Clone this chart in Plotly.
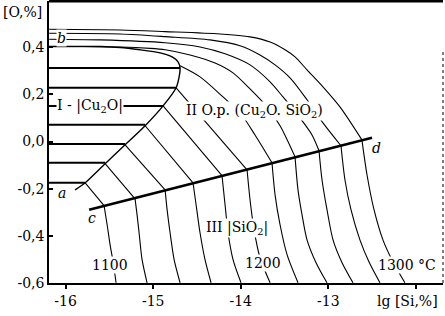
import plotly.graph_objects as go

# ---------------- axes ----------------
X_RANGE = [-16.19, -11.69]
Y_RANGE = [-0.6, 0.596]
X_TICKS = [-16, -15, -14, -13, -12]
X_TICK_LABELS = ["-16", "-15", "-14", "-13", ""]
Y_TICKS = [-0.6, -0.4, -0.2, 0.0, 0.2, 0.4]
Y_TICK_LABELS = ["-0,6", "-0,4", "-0,2", "0,0", "0,2", "0,4"]

# ---------------- boundary a-b (region I / II) ----------------
AB_X = [-15.892, -15.777, -15.549, -15.321, -15.092, -14.887, -14.738, -14.704,
        -14.693, -14.716, -14.784, -14.921, -15.150, -15.378, -15.606, -16.188]
AB_Y = [-0.205, -0.175, -0.094, -0.014, 0.067, 0.151, 0.228, 0.274,
        0.312, 0.338, 0.359, 0.376, 0.389, 0.399, 0.403, 0.403]

# ---------------- boundary c-d (region II / III) ----------------
CD_X = [-15.732, -12.501]
CD_Y = [-0.289, 0.016]

# ---------------- tie lines in region I ----------------
TIE_Y = [0.312, 0.228, 0.151, 0.071, -0.010, -0.090, -0.175]
TIE_X_END = [-14.693, -14.738, -14.887, -15.092, -15.321, -15.549, -15.777]

# ---------------- isotherms (°C) ----------------
T1100_X = [-15.777, -15.561, -15.526, -15.492, -15.458, -15.424]
T1100_Y = [-0.175, -0.272, -0.353, -0.438, -0.510, -0.599]
T1120_X = [-15.549, -15.207, -15.184, -15.161, -15.127, -15.070]
T1120_Y = [-0.094, -0.243, -0.311, -0.387, -0.501, -0.599]
T1140_X = [-15.321, -14.864, -14.841, -14.807, -14.761, -14.693]
T1140_Y = [-0.014, -0.205, -0.289, -0.387, -0.501, -0.599]
T1160_X = [-15.092, -14.545, -14.510, -14.465, -14.408, -14.339]
T1160_Y = [0.067, -0.175, -0.268, -0.387, -0.501, -0.599]
T1180_X = [-14.887, -14.214, -14.179, -14.145, -14.088, -13.997]
T1180_Y = [0.151, -0.145, -0.268, -0.387, -0.501, -0.599]
T1200_X = [-14.738, -13.928, -13.894, -13.848, -13.780, -13.665]
T1200_Y = [0.228, -0.120, -0.247, -0.374, -0.493, -0.599]
T1220_X = [-14.693, -14.465, -14.202, -14.008, -13.837, -13.643,
           -13.608, -13.551, -13.471, -13.346]
T1220_Y = [0.321, 0.274, 0.189, 0.122, 0.028, -0.090,
           -0.226, -0.353, -0.480, -0.599]
T1240_X = [-16.188, -15.378, -15.035, -14.864, -14.579, -14.293, -14.088, -13.894,
           -13.700, -13.551, -13.380, -13.346, -13.300, -13.243, -13.140, -13.015]
T1240_Y = [0.403, 0.401, 0.395, 0.389, 0.367, 0.333, 0.291, 0.223,
           0.147, 0.067, -0.065, -0.205, -0.311, -0.417, -0.514, -0.599]
T1260_X = [-16.188, -15.606, -14.864, -14.465, -14.179, -13.894, -13.665, -13.517,
           -13.323, -13.186, -13.106, -13.072, -13.015, -12.946, -12.843, -12.718]
T1260_Y = [0.434, 0.431, 0.419, 0.401, 0.372, 0.325, 0.253, 0.189,
           0.100, 0.028, -0.039, -0.162, -0.289, -0.417, -0.514, -0.599]
T1280_X = [-16.188, -15.378, -14.864, -14.350, -14.008, -13.780, -13.608, -13.437,
           -13.243, -13.061, -12.855, -12.810, -12.741, -12.639, -12.536, -12.410]
T1280_Y = [0.459, 0.456, 0.445, 0.431, 0.406, 0.367, 0.325, 0.270,
           0.177, 0.079, -0.018, -0.162, -0.289, -0.417, -0.510, -0.599]
T1300_X = [-16.188, -15.378, -14.864, -14.236, -13.894, -13.665, -13.494, -13.380,
           -13.243, -13.061, -12.867, -12.616, -12.558, -12.478, -12.376, -12.262, -12.125]
T1300_Y = [0.476, 0.473, 0.466, 0.456, 0.444, 0.422, 0.389, 0.359,
           0.304, 0.232, 0.147, 0.007, -0.141, -0.289, -0.417, -0.510, -0.599]

ISOTHERMS = [(T1100_X, T1100_Y), (T1120_X, T1120_Y), (T1140_X, T1140_Y),
             (T1160_X, T1160_Y), (T1180_X, T1180_Y), (T1200_X, T1200_Y),
             (T1220_X, T1220_Y), (T1240_X, T1240_Y), (T1260_X, T1260_Y),
             (T1280_X, T1280_Y), (T1300_X, T1300_Y)]

FONT = "DejaVu Serif"

fig = go.Figure()

def cd_line(x):
    return CD_Y[0] + (x - CD_X[0]) * (CD_Y[1] - CD_Y[0]) / (CD_X[1] - CD_X[0])

# isotherms: split where the curve meets c-d so the kink stays sharp
for xs, ys in ISOTHERMS:
    k = min(range(len(xs)), key=lambda i: abs(ys[i] - cd_line(xs[i])))
    for sx, sy in ((xs[:k + 1], ys[:k + 1]), (xs[k:], ys[k:])):
        fig.add_trace(go.Scatter(x=sx, y=sy, mode="lines",
                                 line=dict(color="black", width=1.1, shape="spline", smoothing=0.8),
                                 hoverinfo="skip", showlegend=False))

# tie lines
tx, ty = [], []
for yv, xe in zip(TIE_Y, TIE_X_END):
    tx += [X_RANGE[0], xe, None]
    ty += [yv, yv, None]
fig.add_trace(go.Scatter(x=tx, y=ty, mode="lines", line=dict(color="black", width=2),
                         hoverinfo="skip", showlegend=False))

# a-b boundary
fig.add_trace(go.Scatter(x=AB_X, y=AB_Y, mode="lines",
                         line=dict(color="black", width=1.4, shape="spline", smoothing=0.6),
                         hoverinfo="skip", showlegend=False))
# c-d boundary
fig.add_trace(go.Scatter(x=CD_X, y=CD_Y, mode="lines", line=dict(color="black", width=2.6),
                         hoverinfo="skip", showlegend=False))

def label(x, y, text, bg=True, size=14, ref="data"):
    fig.add_annotation(x=x, y=y, text=text, showarrow=False,
                       xref="x" if ref == "data" else "paper",
                       yref="y" if ref == "data" else "paper",
                       xanchor="center", yanchor="middle",
                       font=dict(family=FONT, size=size, color="black"),
                       bgcolor="white" if bg else "rgba(0,0,0,0)", borderpad=0)

label(-15.72, 0.151, "I - |Cu<sub>2</sub>O|")
label(-13.84, 0.130, "II O.p. (Cu<sub>2</sub>O. SiO<sub>2</sub>)")
label(-14.04, -0.366, "III |SiO<sub>2</sub>|")
label(-15.492, -0.523, "1100")
label(-13.745, -0.514, "1200")
label(-12.10, -0.522, "1300 °C")
label(-16.04, -0.217, "<i>a</i>", bg=False)
label(-16.05, 0.439, "<i>b</i>")
label(-15.697, -0.323, "<i>c</i>", bg=False)
label(-12.444, -0.027, "<i>d</i>", bg=False)
label(-0.068, 0.962, "[O,%]", ref="paper")
label(0.911, -0.064, "lg [Si,%]", ref="paper")

# frame: thick top border, dotted right border
fig.add_shape(type="line", xref="paper", yref="paper", x0=0, x1=1, y0=1, y1=1,
              line=dict(color="black", width=3))
fig.add_shape(type="line", xref="paper", yref="paper", x0=1, x1=1, y0=0, y1=0.83,
              line=dict(color="black", width=1, dash="dot"))

fig.update_layout(
    width=445, height=316,
    margin=dict(l=49, r=2, t=1, b=33),
    paper_bgcolor="white", plot_bgcolor="white",
    font=dict(family=FONT, size=14, color="black"),
    xaxis=dict(range=X_RANGE, tickvals=X_TICKS, ticktext=X_TICK_LABELS,
               showgrid=False, zeroline=False, showline=True, linecolor="black", linewidth=2,
               ticks="outside", ticklen=4, tickcolor="black", tickwidth=1.5,
               tickfont=dict(family=FONT, size=14, color="black")),
    yaxis=dict(range=Y_RANGE, tickvals=Y_TICKS, ticktext=Y_TICK_LABELS,
               showgrid=False, zeroline=False, showline=True, linecolor="black", linewidth=1.5,
               ticks="inside", ticklen=4, tickcolor="black", tickwidth=1.5,
               tickfont=dict(family=FONT, size=14, color="black")),
)

fig.write_html("out.html", config={"displayModeBar": False},
               post_script="document.body.style.margin='0';document.body.style.overflow='hidden';")
